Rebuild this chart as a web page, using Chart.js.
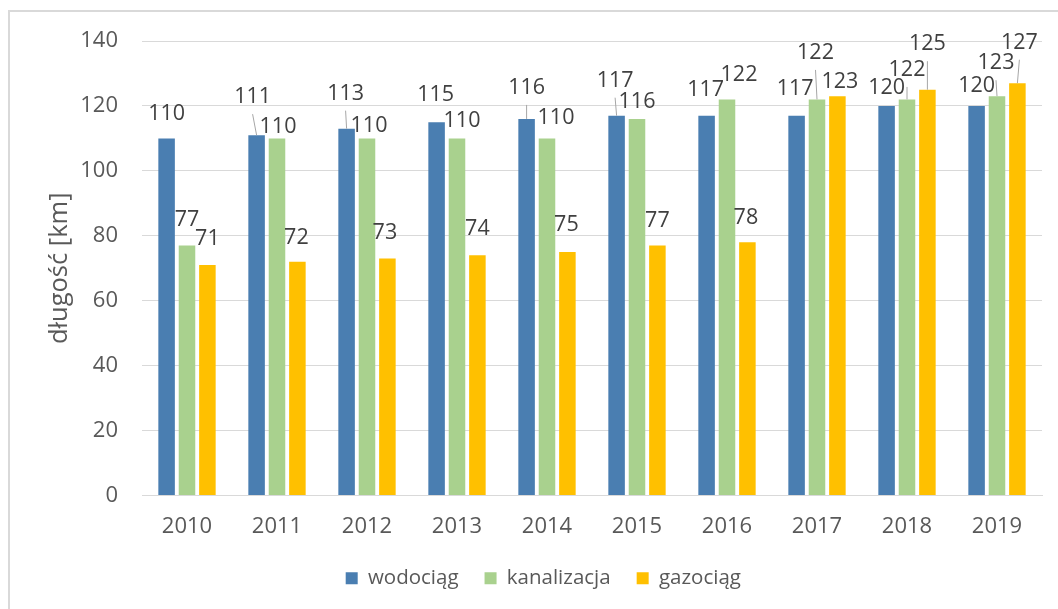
<!DOCTYPE html>
<html>
<head>
<meta charset="utf-8">
<script src="https://cdn.jsdelivr.net/npm/chart.js@4"></script>
<style>
    html, body { margin: 0; padding: 0; background: #ffffff; overflow: hidden; }
    #wrap { position: relative; width: 1058px; height: 609px; }
    #frame { position: absolute; left: 8px; top: 10px; width: 1200px; height: 800px; border: 2px solid #d9d9d9; pointer-events: none; }
</style>
</head>
<body>
<div id="wrap">
    <canvas id="myChart" width="1058" height="609"></canvas>
    <div id="frame"></div>
</div>
<script>
const years = ['2010', '2011', '2012', '2013', '2014', '2015', '2016', '2017', '2018', '2019'];
const wodociag = [110, 111, 113, 115, 116, 117, 117, 117, 120, 120];
const kanalizacja = [77, 110, 110, 110, 110, 116, 122, 122, 122, 123];
const gazociag = [71, 72, 73, 74, 75, 77, 78, 123, 125, 127];

// where each data label sits relative to the top of its bar (moved by hand in the original)
const labelDx = [
    [0, -4, -1, -1, 0, -1.5, -1, -1.5, 0, 0],
    [0, 1, 2, 5, 9, 0, 12, -1.5, 0, -1],
    [0, -1, -2.5, 0, -1, 0, -1.5, 2.5, 0, 2]
];
const labelDy = [
    [-25, -38, -35, -27.5, -31, -35, -25.5, -26.5, -18, -20],
    [-26, -11.5, -13, -17.5, -20.5, -17, -24.5, -46.5, -29.5, -33],
    [-26, -24, -26, -26.5, -27, -24.5, -24, -14, -45.5, -40.5]
];

const FONT = '"Open Sans", "DejaVu Sans", sans-serif';

const barLabels = {
    id: 'barLabels',
    afterDatasetsDraw(chart) {
        const ctx = chart.ctx;
        ctx.save();
        ctx.font = '21.5px ' + FONT;
        ctx.textAlign = 'center';
        ctx.textBaseline = 'middle';
        chart.data.datasets.forEach((ds, di) => {
            const meta = chart.getDatasetMeta(di);
            meta.data.forEach((bar, i) => {
                const lx = bar.x + labelDx[di][i];
                const ly = bar.y + labelDy[di][i];
                // leader line for labels pulled away from the bar
                if (labelDy[di][i] < -29) {
                    ctx.strokeStyle = '#a6a6a6';
                    ctx.lineWidth = 1;
                    ctx.beginPath();
                    ctx.moveTo(lx, ly + 17);
                    ctx.lineTo(bar.x, bar.y);
                    ctx.stroke();
                }
                ctx.fillStyle = '#404040';
                ctx.fillText(String(ds.data[i]), lx, ly);
            });
        });
        ctx.restore();
    }
};

const ctx = document.getElementById('myChart');
const myChart = new Chart(ctx, {
    type: 'bar',
    data: {
        labels: years,
        datasets: [
            { label: 'wodociąg', data: wodociag, backgroundColor: '#4a7eb1' },
            { label: 'kanalizacja', data: kanalizacja, backgroundColor: '#a9d18e' },
            { label: 'gazociąg', data: gazociag, backgroundColor: '#ffc000' }
        ]
    },
    plugins: [barLabels],
    options: {
        responsive: false,
        animation: false,
        categoryPercentage: 0.68,
        barPercentage: 0.81,
        layout: {
            padding: { left: 44.6, right: 16, top: 41, bottom: 10.5 }
        },
        plugins: {
            tooltip: { enabled: false },
            legend: {
                position: 'bottom',
                labels: {
                    boxWidth: 12,
                    boxHeight: 12,
                    padding: 26,
                    color: '#595959',
                    font: { family: FONT, size: 20.5 }
                }
            }
        },
        scales: {
            x: {
                grid: { display: false, drawTicks: false },
                border: { color: '#d9d9d9', width: 1 },
                ticks: {
                    color: '#595959',
                    padding: 18,
                    maxRotation: 0,
                    font: { family: FONT, size: 22 }
                },
                afterFit(scale) { scale.height = 46.5; }
            },
            y: {
                min: 0,
                max: 140,
                grid: { color: '#d9d9d9', drawTicks: false },
                border: { display: false },
                ticks: {
                    stepSize: 20,
                    color: '#595959',
                    padding: 24,
                    font: { family: FONT, size: 22 }
                },
                title: {
                    display: true,
                    text: 'długość [km]',
                    color: '#595959',
                    padding: { top: 0, bottom: 14 },
                    font: { family: FONT, size: 25.5 }
                },
                afterFit(scale) { scale.width = 97.4; }
            }
        }
    }
});
</script>
</body>
</html>
